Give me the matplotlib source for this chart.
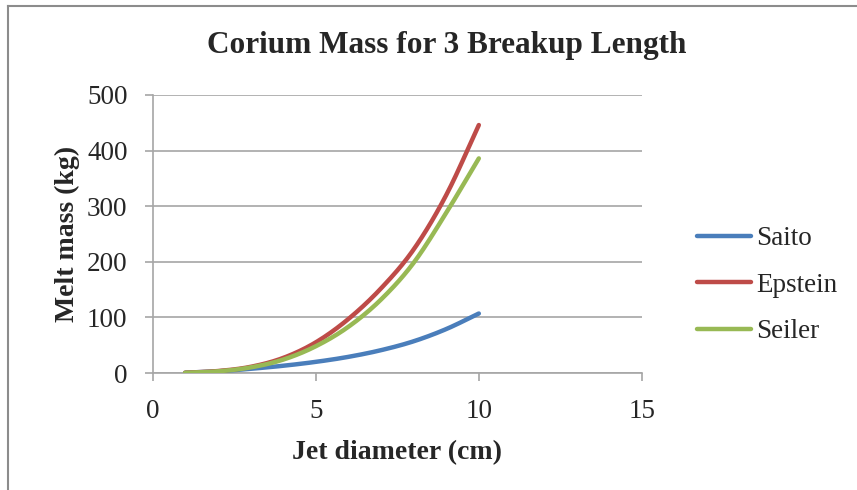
import numpy as np
import matplotlib
matplotlib.use("Agg")
import matplotlib.pyplot as plt
from matplotlib.lines import Line2D

# ---- data ----
diameter = [1, 2, 3, 4, 5, 6, 7, 8, 9, 10]
saito   = [0.5, 3.0, 7.5, 13, 20, 29, 41, 57, 79, 107]
epstein = [0.5, 3.5, 11, 27, 55, 97, 152, 222, 320, 446]
seiler  = [0.4, 3.0, 10, 24, 48, 83, 132, 198, 288, 386]
series_names = ["Saito", "Epstein", "Seiler"]
x_ticks = [0, 5, 10, 15]
y_ticks = [0, 100, 200, 300, 400, 500]

title = "Corium Mass for 3 Breakup Length"
xlabel = "Jet diameter (cm)"
ylabel = "Melt mass (kg)"

colors = ["#4A7EBB", "#BE4B48", "#98B954"]
grid_c = "#A6A6A6"
text_c = "#262626"
font = "Liberation Serif"


def smooth(xs, ys, n=20):
    """Catmull-Rom smoothing (like a spreadsheet 'smoothed line')."""
    xs = np.asarray(xs, float)
    ys = np.asarray(ys, float)
    P = np.column_stack([xs, ys])
    P = np.vstack([2 * P[0] - P[1], P, 2 * P[-1] - P[-2]])
    out = []
    t = np.linspace(0, 1, n, endpoint=False)[:, None]
    for i in range(1, len(P) - 2):
        p0, p1, p2, p3 = P[i - 1], P[i], P[i + 1], P[i + 2]
        seg = 0.5 * ((2 * p1) + (-p0 + p2) * t + (2 * p0 - 5 * p1 + 4 * p2 - p3) * t ** 2
                     + (-p0 + 3 * p1 - 3 * p2 + p3) * t ** 3)
        out.append(seg)
    out.append(P[-2][None, :])
    out = np.vstack(out)
    return out[:, 0], out[:, 1]


fig = plt.figure(figsize=(8.57, 4.90), dpi=100)

# outer chart border (left and top visible)
fig.add_artist(Line2D([8 / 857, 8 / 857], [0, 1 - 6 / 490], color="#8C8C8C", lw=1.5))
fig.add_artist(Line2D([8 / 857, 1], [1 - 6 / 490, 1 - 6 / 490], color="#8C8C8C", lw=1.5))

ax = fig.add_axes([152.5 / 857, 1 - 373 / 490, (642 - 152.5) / 857, (373 - 95) / 490])

for vals, name, c in zip([saito, epstein, seiler], series_names, colors):
    sx, sy = smooth(diameter, vals)
    ax.plot(sx, sy, color=c, lw=3.2, solid_capstyle="round", label=name, zorder=3)

ax.set_xlim(0, 15)
ax.set_ylim(0, 500)
ax.set_xticks(x_ticks)
ax.set_yticks(y_ticks)
ax.grid(axis="y", color=grid_c, lw=1.2)
ax.set_axisbelow(True)
for s in ["top", "right"]:
    ax.spines[s].set_visible(False)
for s in ["left", "bottom"]:
    ax.spines[s].set_color(grid_c)
    ax.spines[s].set_linewidth(1.2)
ax.tick_params(axis="both", color=grid_c, width=1.2, length=6, direction="out",
               labelsize=19.5, labelcolor=text_c)
ax.tick_params(axis="x", pad=13)
ax.tick_params(axis="y", pad=12)
for lab in ax.get_xticklabels() + ax.get_yticklabels():
    lab.set_family(font)

ax.set_xlabel(xlabel, fontsize=20, fontweight="bold", family=font, color=text_c, labelpad=11)
ax.set_ylabel(ylabel, fontsize=20, fontweight="bold", family=font, color=text_c, labelpad=5)

fig.text(447 / 857, 1 - 46 / 490, title, ha="center", va="center", fontsize=22.5,
         fontweight="bold", family=font, color=text_c)

leg = ax.legend(loc="center left", bbox_to_anchor=(1.112, 0.316), frameon=False,
                prop={"family": font, "size": 19.5}, handlelength=2.0, handletextpad=0.18,
                labelspacing=0.79, borderaxespad=0, borderpad=0)
for t in leg.get_texts():
    t.set_color(text_c)

fig.savefig("out.png", dpi=100)
